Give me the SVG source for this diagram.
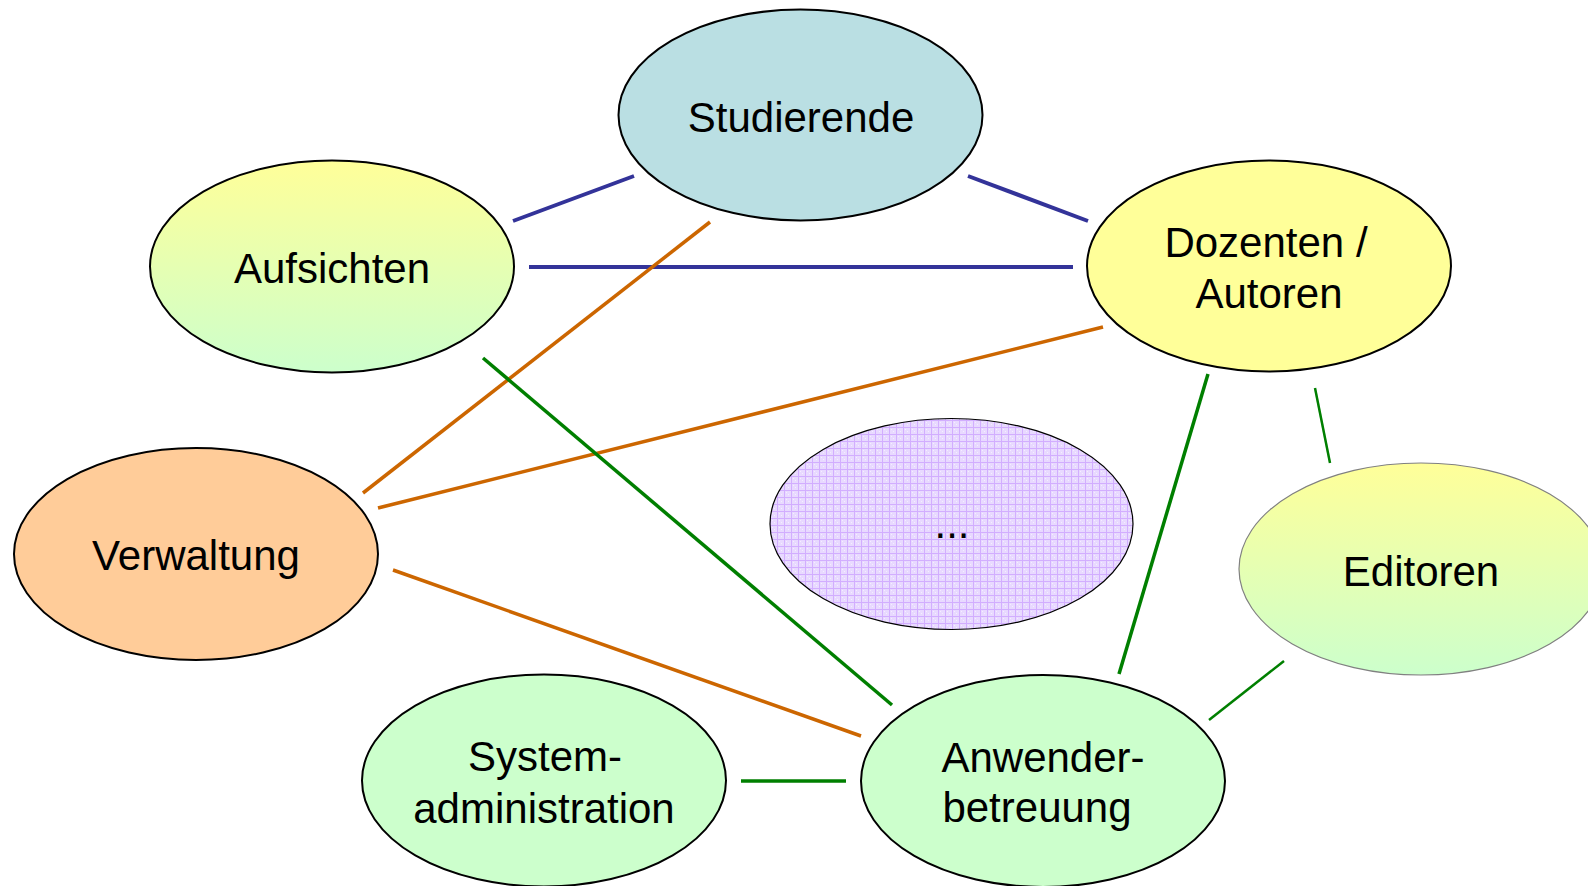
<svg xmlns="http://www.w3.org/2000/svg" width="1588" height="886" viewBox="0 0 1588 886">
<defs>
<linearGradient id="yg" x1="0" y1="0" x2="0" y2="1">
<stop offset="0" stop-color="#FFFF99"/>
<stop offset="1" stop-color="#CCFFCC"/>
</linearGradient>
<pattern id="pp" width="7" height="7" patternUnits="userSpaceOnUse">
<rect width="7" height="7" fill="#E8D9FF"/>
<rect x="2" y="2" width="1" height="1" fill="#F4EEFF"/>
<rect x="4" y="4" width="1" height="1" fill="#F4EEFF"/>
<rect x="0" y="0" width="7" height="1" fill="#D2AEFF"/>
<rect x="0" y="0" width="1" height="7" fill="#D2AEFF"/>
</pattern>
<style>
.n{stroke:#000;stroke-width:2}
.t{font-family:"Liberation Sans",Arial,sans-serif;font-size:42px;fill:#000;text-anchor:middle}
.b{stroke:#333399;stroke-width:4;fill:none}
.o{stroke:#CC6600;stroke-width:3.5;fill:none}
.g{stroke:#007F00;stroke-width:3.5;fill:none}
.gt{stroke:#007F00;stroke-width:2.5;fill:none}
</style>
</defs>
<g id="connectors">
<line class="b" x1="513" y1="221" x2="634" y2="176"/>
<line class="b" x1="968" y1="176" x2="1088" y2="221"/>
<line class="b" x1="529" y1="267" x2="1073" y2="267"/>
<line class="o" x1="363" y1="493" x2="710" y2="222"/>
<line class="o" x1="378" y1="508" x2="1103" y2="327"/>
<line class="o" x1="393" y1="570" x2="861" y2="736"/>
<line class="g" x1="483" y1="358" x2="892" y2="705"/>
<line class="g" x1="1208" y1="374" x2="1119" y2="674"/>
<line class="gt" x1="1315" y1="388" x2="1330" y2="463"/>
<line class="gt" x1="1284" y1="661" x2="1209" y2="720"/>
<line class="g" x1="741" y1="781" x2="846" y2="781"/>
</g>
<g id="studierende">
<ellipse class="n" cx="800.5" cy="115" rx="182" ry="105.5" fill="#BADFE3"/>
<text class="t" x="801" y="132">Studierende</text>
</g>
<g id="aufsichten">
<ellipse class="n" cx="332" cy="266.5" rx="182" ry="106" fill="url(#yg)"/>
<text class="t" x="332" y="283">Aufsichten</text>
</g>
<g id="dozenten">
<ellipse class="n" cx="1269" cy="266" rx="182" ry="105.5" fill="#FFFF99"/>
<text class="t" x="1266" y="257">Dozenten /</text>
<text class="t" x="1269" y="308">Autoren</text>
</g>
<g id="verwaltung">
<ellipse class="n" cx="196" cy="554" rx="182" ry="106" fill="#FFCC99"/>
<text class="t" x="196" y="570">Verwaltung</text>
</g>
<g id="dots">
<ellipse cx="951.5" cy="524" rx="181.5" ry="105.5" fill="url(#pp)" stroke="#000" stroke-width="1.2"/>
<text class="t" x="952" y="538">...</text>
</g>
<g id="editoren">
<ellipse cx="1421" cy="569" rx="182" ry="106" fill="url(#yg)" stroke="#808080" stroke-width="1.2"/>
<text class="t" x="1421" y="586">Editoren</text>
</g>
<g id="systemadministration">
<ellipse class="n" cx="544" cy="780.5" rx="182" ry="106" fill="#CCFFCC"/>
<text class="t" x="545" y="771">System-</text>
<text class="t" x="544" y="823">administration</text>
</g>
<g id="anwenderbetreuung">
<ellipse class="n" cx="1043" cy="781" rx="182" ry="106" fill="#CCFFCC"/>
<text class="t" x="1043" y="772">Anwender-</text>
<text class="t" x="1037" y="822">betreuung</text>
</g>
</svg>
